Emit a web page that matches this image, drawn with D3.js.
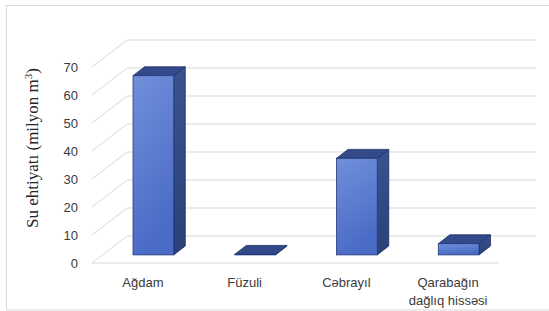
<!DOCTYPE html>
<html lang="az">
<head>
    <meta charset="UTF-8">
    <title>Su ehtiyatı</title>
    <script src="https://d3js.org/d3.v7.min.js"></script>
    <style>
        body { margin: 0; background: #fff; }
        .tick text { font-family: "Liberation Sans", Arial, sans-serif; font-size: 13px; fill: #3a3a3a; }
        .grid { stroke: #d9d9d9; stroke-width: 1; fill: none; }
        .ylabel { font-family: "Liberation Serif", "Times New Roman", serif; font-size: 17px; fill: #262626; }
    </style>
</head>
<body>
<div id="chart"></div>
<script>
    // data
    const categories = ["Ağdam", "Füzuli", "Cəbrayıl", "Qarabağın\ndağlıq hissəsi"];
    const values = [64, 0.2, 34.5, 4];
    const yTicks = [0, 10, 20, 30, 40, 50, 60, 70];

    const W = 549, H = 311;

    // floor geometry: front-left corner and depth vector
    const x0 = 92, x1 = 499, floorY = 263;
    const depthX = 35, depthY = -27;
    const barDepthStart = 0.3, barDepth = 0.33;

    const svg = d3.select("#chart").append("svg")
        .attr("width", W)
        .attr("height", H);

    // chart border
    svg.append("rect")
        .attr("x", 6.5).attr("y", 5.5)
        .attr("width", 600).attr("height", 304.5)
        .attr("fill", "none")
        .attr("stroke", "#d9d9d9");

    const x = d3.scaleBand().domain(categories).range([x0, x1]);
    const h = d3.scaleLinear().domain([0, 70]).range([0, 196]);
    const yFront = d3.scaleLinear().domain([0, 70]).range([floorY, floorY - 196]);

    // back wall and side wall grid lines
    const grid = svg.append("g");
    yTicks.forEach(v => {
        const yb = floorY + depthY - h(v);
        grid.append("line").attr("class", "grid")
            .attr("x1", x0 + depthX).attr("x2", x1 + depthX + 2)
            .attr("y1", yb).attr("y2", yb);
        grid.append("line").attr("class", "grid")
            .attr("x1", x0).attr("y1", yFront(v))
            .attr("x2", x0 + depthX).attr("y2", yb);
    });
    // front floor edge
    grid.append("line").attr("class", "grid")
        .attr("x1", x0).attr("x2", x1)
        .attr("y1", floorY).attr("y2", floorY);

    // gradients
    const defs = svg.append("defs");
    const gFront = defs.append("linearGradient").attr("id", "front")
        .attr("x1", 0).attr("y1", 0).attr("x2", 0.3).attr("y2", 1);
    gFront.append("stop").attr("offset", "0%").attr("stop-color", "#7090da");
    gFront.append("stop").attr("offset", "100%").attr("stop-color", "#4a6bc6");
    const gSide = defs.append("linearGradient").attr("id", "side")
        .attr("x1", 0).attr("y1", 0).attr("x2", 0).attr("y2", 1);
    gSide.append("stop").attr("offset", "0%").attr("stop-color", "#3a5390");
    gSide.append("stop").attr("offset", "100%").attr("stop-color", "#2a4077");

    // bars
    const bw = x.bandwidth() * 0.4;
    const fdx = depthX * barDepthStart, fdy = depthY * barDepthStart;
    const ddx = depthX * barDepth, ddy = depthY * barDepth;

    const bars = svg.append("g").selectAll("g")
        .data(categories.map((c, i) => ({ c, v: values[i] })))
        .enter().append("g");

    bars.each(function (d) {
        const g = d3.select(this);
        const left = x(d.c) + x.bandwidth() / 2 - bw / 2 + fdx;
        const right = left + bw;
        const bottom = floorY + fdy;
        const top = bottom - h(d.v);
        const pts = a => a.map(p => p.join(",")).join(" ");
        // side
        g.append("polygon")
            .attr("points", pts([[right, top], [right + ddx, top + ddy], [right + ddx, bottom + ddy], [right, bottom]]))
            .attr("fill", "url(#side)").attr("stroke", "#1d3066").attr("stroke-width", 0.8);
        // top
        g.append("polygon")
            .attr("points", pts([[left, top], [left + ddx, top + ddy], [right + ddx, top + ddy], [right, top]]))
            .attr("fill", "#33498a").attr("stroke", "#1d3066").attr("stroke-width", 0.8);
        // front
        g.append("rect")
            .attr("x", left).attr("y", top)
            .attr("width", bw).attr("height", bottom - top)
            .attr("fill", "url(#front)").attr("stroke", "#22387a").attr("stroke-width", 0.8);
    });

    // y axis labels
    svg.append("g")
        .attr("transform", "translate(78,0)")
        .call(d3.axisLeft(yFront).tickValues(yTicks).tickSize(0).tickPadding(0))
        .call(g => g.select(".domain").remove());

    // x axis labels
    const xAxis = svg.append("g")
        .attr("transform", `translate(0,${floorY})`)
        .call(d3.axisBottom(x).tickSize(0).tickPadding(15))
        .call(g => g.select(".domain").remove());
    xAxis.selectAll(".tick text").each(function (d) {
        const t = d3.select(this);
        const lines = d.split("\n");
        t.text(null);
        lines.forEach((line, i) => {
            t.append("tspan").attr("x", 0).attr("dy", i === 0 ? "0.71em" : "1.38em").text(line);
        });
    }).attr("dy", null);

    // y axis title
    svg.append("text")
        .attr("class", "ylabel")
        .attr("transform", "translate(38,148) rotate(-90)")
        .attr("text-anchor", "middle")
        .html("Su ehtiyatı (milyon m<tspan dy='-6' font-size='11'>3</tspan><tspan dy='6'>)</tspan>");
</script>
</body>
</html>
